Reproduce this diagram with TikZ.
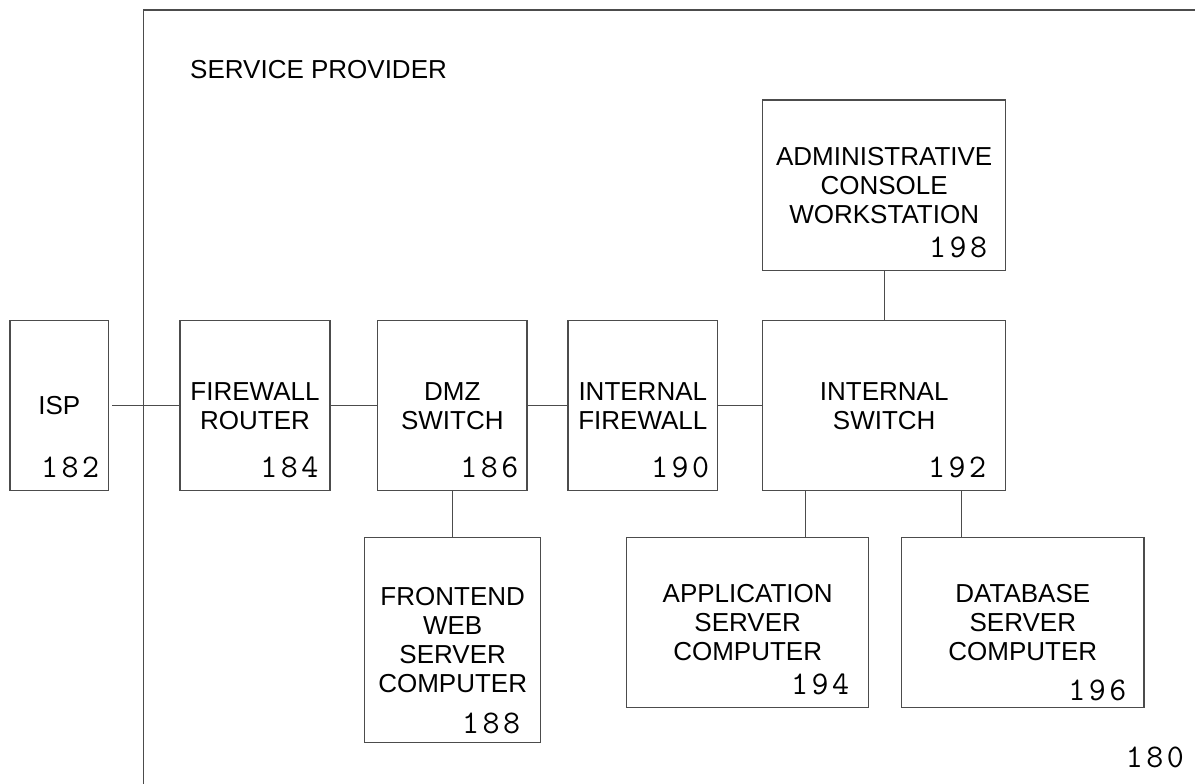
\documentclass[tikz,border=0pt]{standalone}
\usepackage{fontspec}
\setmainfont{Liberation Sans}
\definecolor{linecol}{gray}{0.3}
\newcommand{\boxfont}{\fontsize{26}{29}\selectfont}
\newcommand{\numsize}{\ttfamily\fontsize{33}{33}\selectfont}
% three-digit reference numeral with open spacing
\newcommand{\refdigits}[3]{#1\kern3.5pt#2\kern3.5pt#3}
\begin{document}
\begin{tikzpicture}[x=1pt,y=-1pt,
  box/.style={draw=linecol, line width=1.1pt, inner sep=0pt, align=center, font=\boxfont},
  refnum/.style={anchor=base east, inner sep=0pt, font=\numsize},
  link/.style={draw=linecol, line width=1.1pt}]
\useasboundingbox (0,0) rectangle (1195,784);

% service provider enclosure
\draw[linecol, line width=1.6pt] (143.5,784) -- (143.5,10) -- (1195,10);
\node[anchor=base west, inner sep=0pt, font=\boxfont] (sp) at (190,78) {SERVICE PROVIDER};
\node[refnum] (n180) at (1184,767) {\refdigits180};

% boxes
\node[box, minimum width=98.7, minimum height=170] (isp) at (59.3,405.7) {ISP};
\node[box, minimum width=150, minimum height=170] (fw) at (255,405.7) {FIREWALL\\ROUTER};
\node[box, minimum width=149.3, minimum height=170] (dmz) at (452.3,405.7) {DMZ\\SWITCH};
\node[box, minimum width=149.7, minimum height=170] (ifw) at (642.8,405.7) {INTERNAL\\FIREWALL};
\node[box, minimum width=243, minimum height=170] (isw) at (884.2,405.7) {INTERNAL\\SWITCH};
\node[box, minimum width=243, minimum height=170.3] (adm) at (884.2,185.2) {ADMINISTRATIVE\\CONSOLE\\WORKSTATION};
\node[box, minimum width=176, minimum height=205] (fe) at (452.7,639.8) {FRONTEND\\WEB\\SERVER\\COMPUTER};
\node[box, minimum width=242, minimum height=170] (app) at (747.7,622.3) {APPLICATION\\SERVER\\COMPUTER};
\node[box, minimum width=242.3, minimum height=170] (db) at (1022.8,622.3) {DATABASE\\SERVER\\COMPUTER};

% reference numerals
\node[refnum] (n182) at ([xshift=-10pt,yshift=14pt]isp.south east) {\refdigits182};
\node[refnum] (n184) at ([xshift=-12pt,yshift=14pt]fw.south east) {\refdigits184};
\node[refnum] (n186) at ([xshift=-9pt,yshift=14pt]dmz.south east) {\refdigits186};
\node[refnum] (n190) at ([xshift=-9pt,yshift=14pt]ifw.south east) {\refdigits190};
\node[refnum] (n192) at ([xshift=-20pt,yshift=14pt]isw.south east) {\refdigits192};
\node[refnum] (n198) at ([xshift=-19pt,yshift=13.6pt]adm.south east) {\refdigits198};
\node[refnum] (n188) at ([xshift=-21pt,yshift=9pt]fe.south east) {\refdigits188};
\node[refnum] (n194) at ([xshift=-20pt,yshift=13pt]app.south east) {\refdigits194};
\node[refnum] (n196) at ([xshift=-18pt,yshift=7.3pt]db.south east) {\refdigits196};

% connections
\draw[link] ([xshift=3pt]isp.east) -- (fw.west);
\draw[link] (fw.east) -- (dmz.west);
\draw[link] (dmz.east) -- (ifw.west);
\draw[link] (ifw.east) -- (isw.west);
\draw[link] (adm.south) -- (isw.north);
\draw[link] (dmz.south) -- (fe.north -| dmz.south);
\draw[link] ([xshift=43pt]isw.south west) -- ([xshift=43pt]isw.south west |- app.north);
\draw[link] ([xshift=-45pt]isw.south east) -- ([xshift=-45pt]isw.south east |- db.north);
\end{tikzpicture}
\end{document}
